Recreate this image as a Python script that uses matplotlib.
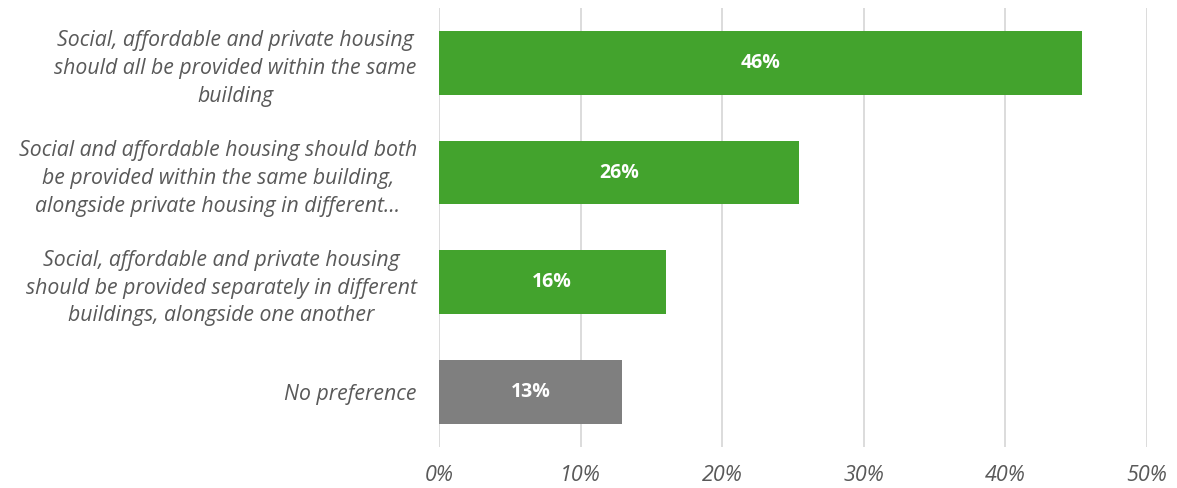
import matplotlib
matplotlib.use("Agg")
import matplotlib.pyplot as plt
import numpy as np

categories = [
    "Social, affordable and private housing\nshould all be provided within the same\nbuilding",
    "Social and affordable housing should both\nbe provided within the same building,\nalongside private housing in different...",
    "Social, affordable and private housing\nshould be provided separately in different\nbuildings, alongside one another",
    "No preference",
]
values = [45.4, 25.4, 16.0, 12.9]
bar_labels = ["46%", "26%", "16%", "13%"]
bar_colors = ["#43A32D", "#43A32D", "#43A32D", "#7F7F7F"]
xticks = [0, 10, 20, 30, 40, 50]
xtick_labels = ["0%", "10%", "20%", "30%", "40%", "50%"]

plt.rcParams["font.family"] = ["Open Sans", "DejaVu Sans"]

fig = plt.figure(figsize=(11.77, 4.88), dpi=100)
ax = fig.add_axes([0.373, 0.084, 0.6015, 0.9])

y = np.arange(len(categories))
ax.barh(y, values, height=0.58, color=bar_colors, zorder=2)
for yi, v, lab in zip(y, values, bar_labels):
    ax.text(v / 2, yi, lab, ha="center", va="center", color="white",
            fontsize=14, fontweight="bold", zorder=3)

ax.set_ylim(3.5, -0.5)
ax.set_xlim(0, 50)
ax.set_yticks(y)
ax.set_yticklabels(categories, fontsize=15.3, style="italic", color="#595959",
                   multialignment="center", linespacing=1.42)
ax.set_xticks(xticks)
ax.set_xticklabels(xtick_labels, fontsize=15.5, style="italic", color="#595959")
ax.tick_params(axis="both", length=0)
ax.tick_params(axis="y", pad=16)
ax.tick_params(axis="x", pad=13)
ax.xaxis.grid(True, color="#D9D9D9", linewidth=1.3, zorder=0)
ax.set_axisbelow(True)
for s in ax.spines.values():
    s.set_visible(False)

fig.savefig("out.png", dpi=100)
